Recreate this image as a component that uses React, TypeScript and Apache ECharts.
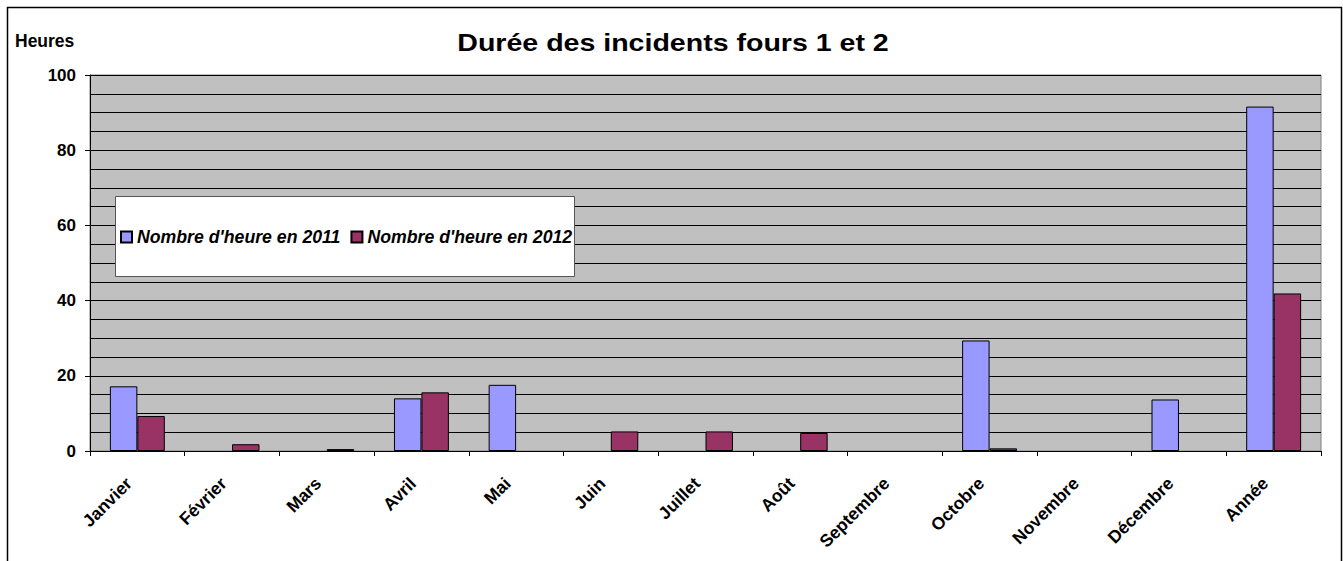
import React, { useEffect, useRef } from "react";
import * as echarts from "echarts";

const categories = [
  "Janvier", "Février", "Mars", "Avril", "Mai", "Juin", "Juillet",
  "Août", "Septembre", "Octobre", "Novembre", "Décembre", "Année",
];
const hours2011 = [17.2, 0, 0, 14.0, 17.6, 0, 0, 0, 0, 29.4, 0, 13.7, 91.6];
const hours2012 = [9.3, 1.8, 0.5, 15.6, 0, 5.2, 5.2, 4.8, 0, 0.7, 0, 0, 41.9];
const seriesNames = ["Nombre d'heure en 2011", "Nombre d'heure en 2012"];
const titleText = "Durée des incidents fours 1 et 2";
const yAxisTitle = "Heures";

const FONT = "Arial, 'Liberation Sans', sans-serif";

// zero values are not drawn as bars (as in the original chart)
const hideZero = (arr: number[]) => arr.map((v) => (v === 0 ? "-" : v));

export default function App() {
  const ref = useRef<HTMLDivElement>(null);

  useEffect(() => {
    if (!ref.current) return;
    const chart = echarts.init(ref.current, undefined, { renderer: "svg" });
    chart.setOption({
      animation: false,
      backgroundColor: "#ffffff",
      graphic: [
        {
          type: "rect",
          z: 0,
          silent: true,
          shape: { x: 7.5, y: 7.5, width: 1334, height: 700 },
          style: { fill: "none", stroke: "#000", lineWidth: 1.5 },
        },
        {
          type: "text",
          x: 673,
          y: 43,
          scaleX: 1.19,
          style: {
            text: titleText,
            fontFamily: FONT,
            fontSize: 24,
            fontWeight: "bold",
            fill: "#000",
            align: "center",
            verticalAlign: "middle",
          },
        },
        {
          type: "text",
          x: 15,
          y: 41,
          style: {
            text: yAxisTitle,
            fontFamily: FONT,
            fontSize: 17.5,
            fontWeight: "bold",
            fill: "#000",
            verticalAlign: "middle",
          },
        },
        {
          type: "rect",
          z: 50,
          silent: true,
          shape: { x: 115.5, y: 196.5, width: 459, height: 80 },
          style: { fill: "#fff", stroke: "#555", lineWidth: 1 },
        },
      ],
      legend: {
        left: 120,
        top: 228,
        padding: 0,
        z: 60,
        itemGap: 10,
        itemWidth: 11,
        itemHeight: 11,
        icon: "rect",
        data: seriesNames,
        textStyle: {
          fontFamily: FONT,
          fontSize: 17.7,
          fontWeight: "bold",
          fontStyle: "italic",
          color: "#000",
        },
      },
      grid: {
        left: 90,
        right: 22,
        top: 75,
        bottom: 110,
        show: true,
        backgroundColor: "#C0C0C0",
        borderColor: "#808080",
        borderWidth: 1,
      },
      xAxis: {
        type: "category",
        data: categories,
        axisLine: { lineStyle: { color: "#000", width: 1 } },
        axisTick: { show: true, length: 5, lineStyle: { color: "#000" } },
        axisLabel: {
          rotate: 45,
          interval: 0,
          margin: 21,
          padding: [0, 12, 0, 0],
          fontFamily: FONT,
          fontSize: 17.5,
          fontWeight: "bold",
          color: "#000",
        },
      },
      yAxis: {
        type: "value",
        min: 0,
        max: 100,
        interval: 20,
        axisLine: { show: true, lineStyle: { color: "#000", width: 1 } },
        axisTick: { show: true, length: 5, lineStyle: { color: "#000" } },
        axisLabel: {
          margin: 14,
          fontFamily: FONT,
          fontSize: 17,
          fontWeight: "bold",
          color: "#000",
        },
        splitLine: { show: true, lineStyle: { color: "#000", width: 1 } },
        minorTick: { show: false, splitNumber: 4 },
        minorSplitLine: { show: true, lineStyle: { color: "#000", width: 1 } },
      },
      series: [
        {
          name: seriesNames[0],
          type: "bar",
          data: hideZero(hours2011),
          barGap: "0%",
          barCategoryGap: "42%",
          itemStyle: { color: "#9999FF", borderColor: "#000", borderWidth: 1 },
        },
        {
          name: seriesNames[1],
          type: "bar",
          data: hideZero(hours2012),
          barGap: "0%",
          barCategoryGap: "42%",
          itemStyle: { color: "#993366", borderColor: "#000", borderWidth: 1 },
        },
      ],
    });
    return () => chart.dispose();
  }, []);

  return (
    <div
      ref={ref}
      style={{ position: "absolute", left: 0, top: 0, width: 1343, height: 561 }}
    />
  );
}
